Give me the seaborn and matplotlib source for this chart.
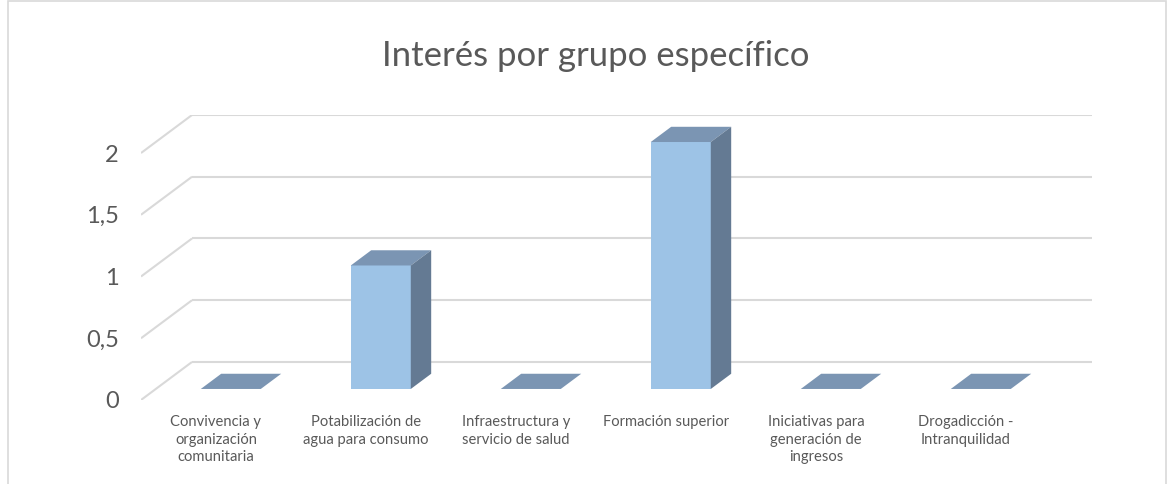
#!/usr/bin/env python3
"""Interés por grupo específico - 3D-style column chart (Excel look)."""

import matplotlib
matplotlib.use('Agg')
import matplotlib.pyplot as plt
from matplotlib.patches import Polygon, Rectangle
import pandas as pd
import seaborn as sns

# Data
categories = [
    'Convivencia y\norganización\ncomunitaria',
    'Potabilización de\nagua para consumo',
    'Infraestructura y\nservicio de salud',
    'Formación superior',
    'Iniciativas para\ngeneración de\ningresos',
    'Drogadicción -\nIntranquilidad',
]
values = [0, 1, 0, 2, 0, 0]
y_ticks = [0, 0.5, 1, 1.5, 2]
y_tick_labels = ['0', '0,5', '1', '1,5', '2']
title = 'Interés por grupo específico'

# Style
FRONT = '#9DC3E6'
TOP = '#7B95B3'
SIDE = '#647A93'
GRID = '#D9D9D9'
TEXT = '#595959'

# depth of the 3D floor in data units (full depth), bar occupies 0.29..0.69 of it
DX, DY = 0.34, 0.308
F_FRONT, F_BACK = 0.29, 0.69

sns.set_theme(style='white')
plt.rcParams['font.family'] = ['Lato', 'DejaVu Sans']

df = pd.DataFrame({'cat': categories, 'value': values})

fig = plt.figure(figsize=(11.75, 4.84), dpi=100)
ax = fig.add_axes([141 / 1175, 84 / 484, 951 / 1175, 285 / 484])

sns.barplot(data=df, x='cat', y='value', color=FRONT, width=0.4,
            saturation=1, edgecolor='none', ax=ax, zorder=3)

ax.set_xlim(-0.5, len(categories) - 0.5 + DX)
ax.set_ylim(0, max(y_ticks) + DY)

# back wall gridlines + diagonal floor/side lines
for v in y_ticks:
    ax.plot([-0.5, -0.5 + DX], [v, v + DY], color=GRID, lw=1.5, zorder=1,
            solid_capstyle='butt')
    ax.plot([-0.5 + DX, len(categories) - 0.5 + DX], [v + DY, v + DY],
            color=GRID, lw=1.5, zorder=1, solid_capstyle='butt')

# shift front faces into depth, add top and side faces
for patch in list(ax.patches):
    x0 = patch.get_x() + F_FRONT * DX
    y0 = patch.get_y() + F_FRONT * DY
    w = patch.get_width()
    h = patch.get_height()
    patch.set_x(x0)
    patch.set_y(y0)
    ddx = (F_BACK - F_FRONT) * DX
    ddy = (F_BACK - F_FRONT) * DY
    top = Polygon([(x0, y0 + h), (x0 + w, y0 + h),
                   (x0 + w + ddx, y0 + h + ddy), (x0 + ddx, y0 + h + ddy)],
                  closed=True, facecolor=TOP, edgecolor='none', zorder=4)
    ax.add_patch(top)
    if h > 0:
        side = Polygon([(x0 + w, y0), (x0 + w + ddx, y0 + ddy),
                        (x0 + w + ddx, y0 + h + ddy), (x0 + w, y0 + h)],
                       closed=True, facecolor=SIDE, edgecolor='none', zorder=4)
        ax.add_patch(side)

ax.set_yticks(y_ticks)
ax.set_yticklabels(y_tick_labels)
ax.tick_params(axis='y', length=0, pad=16, labelsize=17, labelcolor=TEXT)
ax.tick_params(axis='x', length=0, pad=11, labelsize=10.6, labelcolor=TEXT)
for lbl in ax.get_xticklabels():
    lbl.set_verticalalignment('top')
    lbl.set_linespacing(1.3)
ax.set_xlabel('')
ax.set_ylabel('')
sns.despine(ax=ax, left=True, bottom=True)

fig.text(596 / 1175, 1 - 56 / 484, title, ha='center', va='center',
         fontsize=25, color=TEXT)

# chart area border
fig.add_artist(Rectangle((8 / 1175, -0.05), 1158 / 1175, 1.05 - 1.5 / 484,
                         transform=fig.transFigure, fill=False,
                         edgecolor=GRID, lw=1.2))

fig.savefig('out.png', dpi=100)
